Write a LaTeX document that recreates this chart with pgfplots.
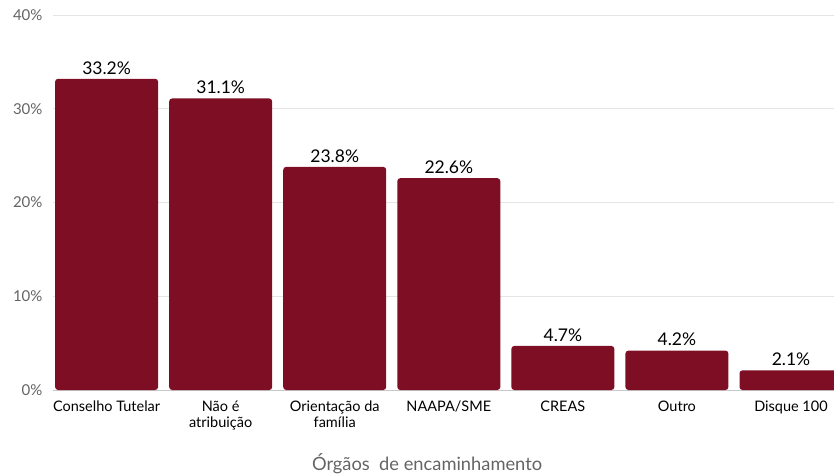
\documentclass[border=0pt]{standalone}
\usepackage{fontspec}
\setmainfont{Lato}
\usepackage{pgfplots}
\pgfplotsset{compat=1.18}
\definecolor{barred}{RGB}{125,14,36}
\definecolor{gridgray}{RGB}{229,229,229}
\definecolor{basegray}{RGB}{200,200,200}
\definecolor{txtgray}{RGB}{100,100,100}
\begin{document}
\begin{tikzpicture}
\begin{axis}[name=ax,
  scale only axis, width=781pt, height=375pt,
  ybar, bar width=103pt,
  xmin=-0.47, xmax=6.377, ymin=0, ymax=40,
  xtick=data,
  xticklabels={Conselho Tutelar, {Não é\\atribuição}, {Orientação da\\família}, NAAPA/SME, CREAS, Outro, Disque 100},
  ytick={0,10,20,30,40},
  yticklabel={\pgfmathprintnumber{\tick}\%},
  /pgf/number format/assume math mode=true,
  axis x line=bottom,
  axis y line=left,
  x axis line style={draw=basegray, line width=0.8pt, -},
  y axis line style={draw=none},
  major tick length=0pt,
  ymajorgrids, grid style={draw=gridgray, line width=0.8pt},
  x tick label style={font=\fontsize{14.5}{16}\selectfont, align=center, anchor=north, text=black, yshift=-7pt},
  y tick label style={font=\fontsize{15}{16}\selectfont, text=txtgray, xshift=-7pt},
  xlabel={Órgãos\ \ de encaminhamento},
  xlabel style={font=\fontsize{18.3}{20}\selectfont, text=txtgray, at={(axis description cs:0.479,0)}, anchor=north, yshift=-63pt, inner sep=0pt},
  nodes near coords={\pgfmathprintnumber[fixed,precision=1,fixed zerofill]{\pgfplotspointmeta}\%},
  nodes near coords style={font=\fontsize{17.5}{19}\selectfont, text=black, yshift=1pt, /pgf/number format/assume math mode=true},
]
\addplot[draw=none, fill=barred, rounded corners=3pt] coordinates {(0,33.2) (1,31.1) (2,23.8) (3,22.6) (4,4.7) (5,4.2) (6,2.1)};
\end{axis}
\pgfresetboundingbox
\path ([shift={(-53pt,-85pt)}]ax.south west) rectangle ([shift={(0pt,15pt)}]ax.north east);
\end{tikzpicture}
\end{document}
